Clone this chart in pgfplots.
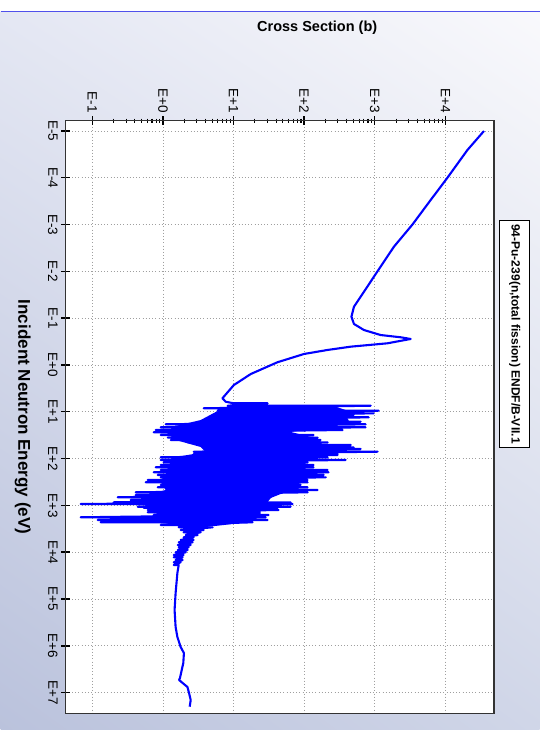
\documentclass[border=0pt]{standalone}
\usepackage{fontspec}
\setmainfont{Liberation Sans}
\usepackage{pgfplots}
\pgfplotsset{compat=1.18}
\usetikzlibrary{shadings}
\definecolor{bgUL}{RGB}{228,231,243}
\definecolor{bgUR}{RGB}{249,249,252}
\definecolor{bgLL}{RGB}{186,194,220}
\definecolor{bgLR}{RGB}{208,214,232}
\definecolor{topblue}{RGB}{80,80,235}
\definecolor{lineblue}{RGB}{0,0,255}
\begin{document}
\begin{tikzpicture}[x=1pt,y=1pt]
\shade[upper left=bgUL, upper right=bgUR, lower left=bgLL, lower right=bgLR] (0,-730) rectangle (539,-12);
\fill[white] (0,-12) rectangle (539,0);
\draw[topblue, line width=1.4pt] (0,-11.7) -- (539,-11.7);
\begin{axis}[
  at={(65pt,-120.7pt)}, anchor=north west,
  width=428.3pt, height=592.6pt, scale only axis,
  xmode=log, ymode=log, y dir=reverse,
  xmin=0.0419, xmax=48800, ymin=6.03e-6, ymax=2.77e7,
  axis background/.style={fill=white},
  axis line style={draw=black!80, line width=1.2pt},
  xtick={0.1,1,10,100,1000,10000},
  xticklabels={E-1,E+0,E+1,E+2,E+3,E+4},
  ytick={1e-5,1e-4,1e-3,1e-2,1e-1,1,10,100,1000,1e4,1e5,1e6,1e7},
  yticklabels={E-5,E-4,E-3,E-2,E-1,E+0,E+1,E+2,E+3,E+4,E+5,E+6,E+7},
  xtick pos=upper, xticklabel pos=upper,
  ytick pos=left, yticklabel pos=left,
  yminorticks=false,
  tick align=center,
  major tick length=9pt, minor tick length=4pt,
  every major tick/.style={black, line width=1.4pt},
  every minor tick/.style={black, line width=1.1pt},
  grid=major,
  major grid style={draw=gray!75, dash pattern=on 1pt off 2.2pt, line width=0.8pt},
  xticklabel style={rotate=-90, anchor=east, font=\fontsize{13.5}{13.5}\selectfont},
  yticklabel style={rotate=-90, anchor=north, font=\fontsize{13.5}{13.5}\selectfont},
  clip=true,
]
% dense core of the resolved resonance region
\addplot[fill=lineblue, draw=none] table {
x y
9.10 7.16
5.58 10.1
3.42 15.0
1.51 20.1
1.09 27.0
1.51 40.1
3.42 56.5
4.02 72.2
1.51 92.4
1.20 137
1.09 224
0.928 316
1.09 469
0.569 600
0.483 846
0.670 1253
0.928 1683
0.349 2051
1.29 2497
1.78 2897
4.02 2897
17.5 2265
24.2 1683
24.2 1253
28.5 980
33.5 695
64.4 469
75.9 287
105 175
105 107
124 72.2
146 51.2
124 34.5
64.4 27.0
237 20.1
329 13.6
387 9.16
237 7.16
} -- cycle;
\addplot[lineblue, line width=2.1pt, line join=round] table {
x y
35200 1e-5
20500 2.55e-5
10670 1e-4
6190 2.98e-4
3410 1e-3
1870 2.96e-3
1090 1e-2
703 2.72e-2
507 5.68e-2
467 9.29e-2
507 0.133
703 0.179
1210 0.229
2330 0.256
3220 0.278
1510 0.344
456 0.406
213 0.478
99.3 0.582
41.7 0.875
17.5 1.56
10.1 2.68
6.94 5.15
7.73 6.09
10.0 6.58
30.4 6.58
8.25 7.41
875 7.41
3.77 8.42
189 8.42
5.95 9.47
1135 9.47
10.0 10.8
964 10.8
5.23 11.7
502 11.7
7.24 13.1
820 13.1
8.53 15.0
413 15.0
4.30 16.3
631 16.3
1.09 18.5
743 18.5
0.928 21.4
743 21.4
0.788 24.5
351 24.5
0.738 27.4
51.3 27.4
0.928 31.3
136 31.3
1.17 35.7
155 35.7
1.29 40.1
171 40.1
2.24 44.9
215 44.9
3.42 51.2
456 51.2
3.77 57.4
502 57.4
8.25 62.3
631 62.3
2.72 71.2
1099 71.2
2.72 79.8
298 79.8
4.74 83.8
298 83.8
0.928 93.8
215 93.8
0.928 107
387 107
1.02 120
112 120
0.928 137
136 137
0.788 153
136 153
0.928 175
215 175
0.738 196
222 196
0.841 224
189 224
0.928 251
202 251
0.607 287
112 287
0.569 321
112 321
0.928 366
89.2 366
0.841 410
112 410
1.17 469
155 469
0.411 525
112 525
0.411 600
30.4 600
0.228 671
33.5 671
0.349 767
24.2 767
0.200 859
64.4 859
0.0683 934
68.7 934
0.438 1067
64.4 1067
0.533 1120
42.1 1120
0.738 1194
30.4 1194
0.607 1253
43.5 1253
0.607 1403
19.3 1403
0.738 1603
31.4 1603
0.0683 1795
28.5 1795
0.119 2051
30.4 2051
0.131 2297
18.6 2297
0.928 2624
3.42 2624
1.67 2938
5.06 2938
1.78 3357
3.77 3357
1.96 3759
3.42 3759
2.10 4290
3.10 4290
1.96 4805
2.72 4805
1.78 5487
2.72 5487
1.67 6144
2.63 6144
1.62 7018
2.47 7018
1.67 7857
2.31 7857
1.62 8975
2.24 8975
1.51 10050
2.10 10050
1.42 11480
1.96 11480
1.42 12850
1.90 12850
1.51 14680
1.90 14680
1.42 16440
1.78 16440
1.42 18780
1.67 18780
1.60 27800
1.51 74500
1.46 171800
1.51 396500
1.60 648000
1.78 1.06e6
1.98 1.43e6
1.94 2.33e6
1.74 4.88e6
1.69 5.38e6
2.22 7.59e6
2.34 1.02e7
2.47 1.44e7
2.39 2e7
};
\end{axis}
\node[font=\bfseries\fontsize{14.5}{14.5}\selectfont] at (316.5,-28) {Cross Section (b)};
\node[rotate=-90, font=\bfseries\fontsize{17}{17}\selectfont] at (22,-417) {Incident Neutron Energy (eV)};
\node[rotate=-90, draw=black, line width=1.3pt, fill=white, inner sep=3.5pt, minimum height=30pt, minimum width=222pt, font=\bfseries\fontsize{12}{12}\selectfont] at (514,-334) {94-Pu-239(n,total fission) ENDF/B-VII.1};
\end{tikzpicture}
\end{document}
